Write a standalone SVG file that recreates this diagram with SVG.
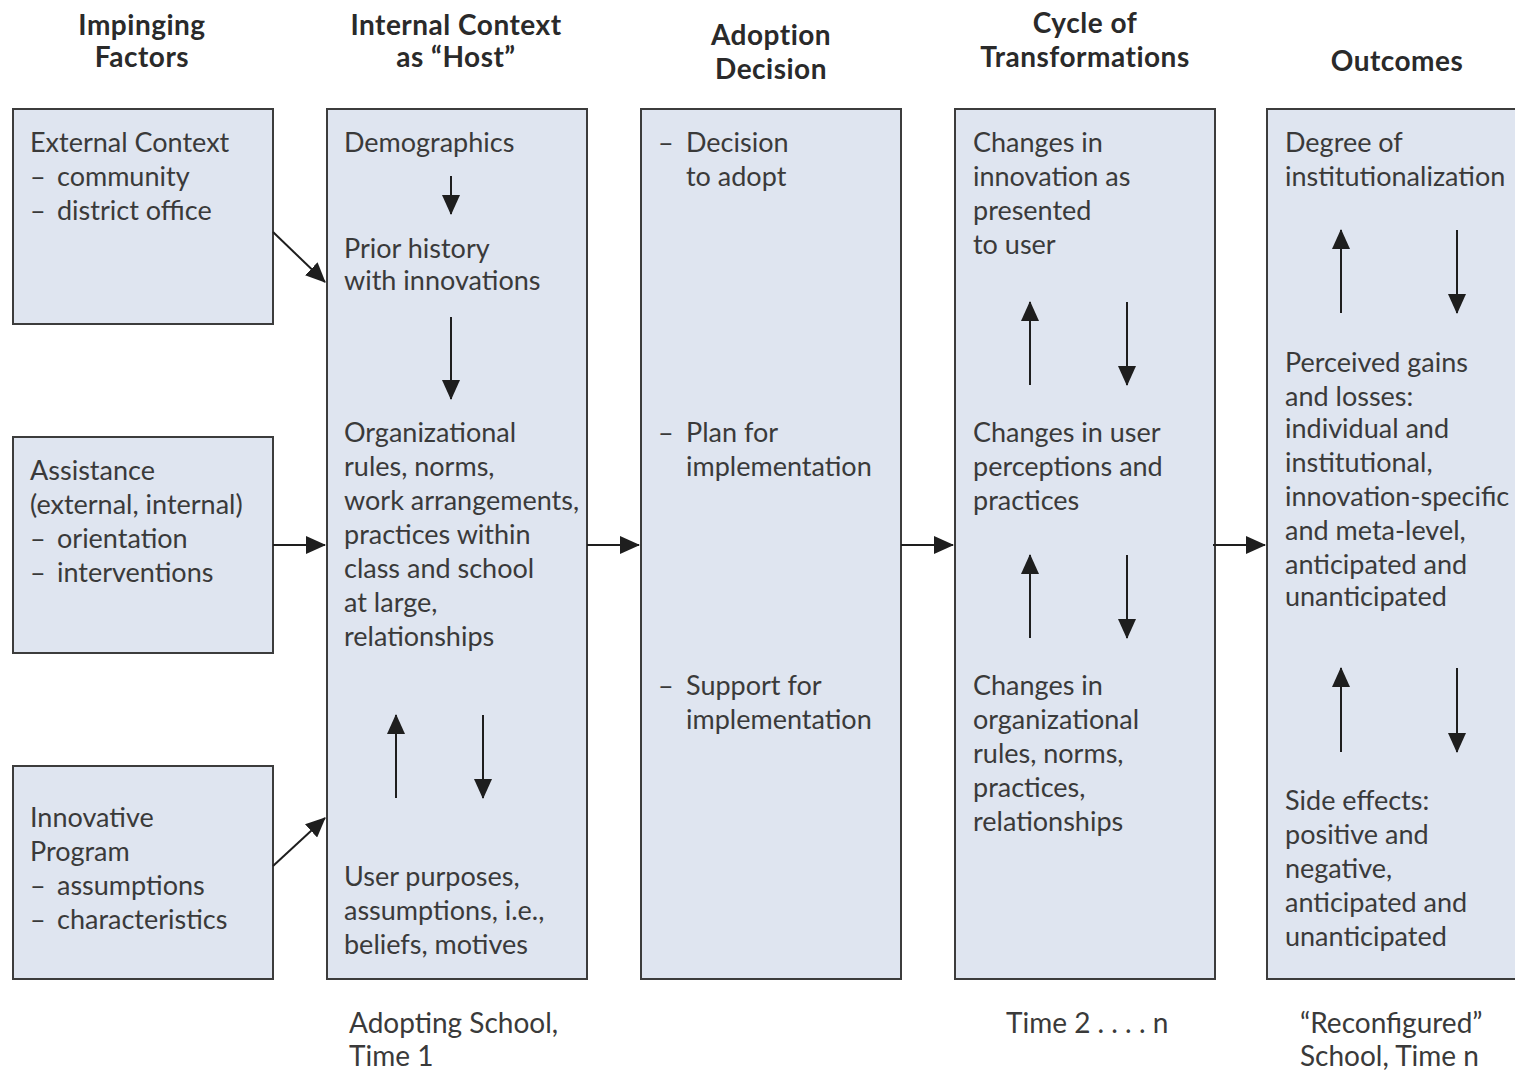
<svg xmlns="http://www.w3.org/2000/svg" width="1515" height="1070" viewBox="0 0 1515 1070">
<defs>
<marker id="ah" viewBox="0 0 20 18" refX="19" refY="9" markerWidth="20" markerHeight="18" markerUnits="userSpaceOnUse" orient="auto">
<path d="M0,0 L20,9 L0,18 Z" fill="#1e1e1e"/>
</marker>
<style>
.box{fill:#dfe5f0;stroke:#3c3c3c;stroke-width:2}
.t{font-family:Lato,"Liberation Sans",sans-serif;font-size:27px;fill:#3a3a3a}
.h{font-family:Lato,"Liberation Sans",sans-serif;font-size:28px;font-weight:bold;letter-spacing:0.5px;fill:#2a2a2a;text-anchor:middle}
.f{font-family:Lato,"Liberation Sans",sans-serif;font-size:28px;fill:#3a3a3a}
.c{stroke:#1e1e1e;stroke-width:2;fill:none;marker-end:url(#ah)}
</style>
</defs>
<rect width="1515" height="1070" fill="#ffffff"/>
<g id="headers">
<text class="h" x="142" y="35">Impinging</text>
<text class="h" x="142" y="67">Factors</text>
<text class="h" x="456" y="35">Internal Context</text>
<text class="h" x="456" y="67">as “Host”</text>
<text class="h" x="771" y="45">Adoption</text>
<text class="h" x="771" y="79">Decision</text>
<text class="h" x="1085" y="33">Cycle of</text>
<text class="h" x="1085" y="67">Transformations</text>
<text class="h" x="1397" y="71">Outcomes</text>
</g>
<g id="external-context">
<rect class="box" x="13" y="109" width="260" height="215"/>
<text class="t" x="30" y="152">External Context</text>
<text class="t" x="30" y="186">–</text><text class="t" x="57" y="186">community</text>
<text class="t" x="30" y="220">–</text><text class="t" x="57" y="220">district office</text>
</g>
<g id="assistance">
<rect class="box" x="13" y="437" width="260" height="216"/>
<text class="t" x="30" y="480">Assistance</text>
<text class="t" x="30" y="514">(external, internal)</text>
<text class="t" x="30" y="548">–</text><text class="t" x="57" y="548">orientation</text>
<text class="t" x="30" y="582">–</text><text class="t" x="57" y="582">interventions</text>
</g>
<g id="innovative-program">
<rect class="box" x="13" y="766" width="260" height="213"/>
<text class="t" x="30" y="827">Innovative</text>
<text class="t" x="30" y="861">Program</text>
<text class="t" x="30" y="895">–</text><text class="t" x="57" y="895">assumptions</text>
<text class="t" x="30" y="929">–</text><text class="t" x="57" y="929">characteristics</text>
</g>
<g id="internal-context">
<rect class="box" x="327" y="109" width="260" height="870"/>
<text class="t" x="344" y="152">Demographics</text>
<text class="t" x="344" y="258">Prior history</text>
<text class="t" x="344" y="290">with innovations</text>
<text class="t" x="344" y="442">Organizational</text>
<text class="t" x="344" y="476">rules, norms,</text>
<text class="t" x="344" y="510">work arrangements,</text>
<text class="t" x="344" y="544">practices within</text>
<text class="t" x="344" y="578">class and school</text>
<text class="t" x="344" y="612">at large,</text>
<text class="t" x="344" y="646">relationships</text>
<text class="t" x="344" y="886">User purposes,</text>
<text class="t" x="344" y="920">assumptions, i.e.,</text>
<text class="t" x="344" y="954">beliefs, motives</text>
</g>
<g id="adoption-decision">
<rect class="box" x="641" y="109" width="260" height="870"/>
<text class="t" x="658" y="152">–</text>
<text class="t" x="686" y="152">Decision</text>
<text class="t" x="686" y="186">to adopt</text>
<text class="t" x="658" y="442">–</text>
<text class="t" x="686" y="442">Plan for</text>
<text class="t" x="686" y="476">implementation</text>
<text class="t" x="658" y="695">–</text>
<text class="t" x="686" y="695">Support for</text>
<text class="t" x="686" y="729">implementation</text>
</g>
<g id="cycle-of-transformations">
<rect class="box" x="955" y="109" width="260" height="870"/>
<text class="t" x="973" y="152">Changes in</text>
<text class="t" x="973" y="186">innovation as</text>
<text class="t" x="973" y="220">presented</text>
<text class="t" x="973" y="254">to user</text>
<text class="t" x="973" y="442">Changes in user</text>
<text class="t" x="973" y="476">perceptions and</text>
<text class="t" x="973" y="510">practices</text>
<text class="t" x="973" y="695">Changes in</text>
<text class="t" x="973" y="729">organizational</text>
<text class="t" x="973" y="763">rules, norms,</text>
<text class="t" x="973" y="797">practices,</text>
<text class="t" x="973" y="831">relationships</text>
</g>
<g id="outcomes">
<rect class="box" x="1267" y="109" width="270" height="870"/>
<text class="t" x="1285" y="152">Degree of</text>
<text class="t" x="1285" y="186">institutionalization</text>
<text class="t" x="1285" y="372">Perceived gains</text>
<text class="t" x="1285" y="406">and losses:</text>
<text class="t" x="1285" y="438">individual and</text>
<text class="t" x="1285" y="472">institutional,</text>
<text class="t" x="1285" y="506">innovation-specific</text>
<text class="t" x="1285" y="540">and meta-level,</text>
<text class="t" x="1285" y="574">anticipated and</text>
<text class="t" x="1285" y="606">unanticipated</text>
<text class="t" x="1285" y="810">Side effects:</text>
<text class="t" x="1285" y="844">positive and</text>
<text class="t" x="1285" y="878">negative,</text>
<text class="t" x="1285" y="912">anticipated and</text>
<text class="t" x="1285" y="946">unanticipated</text>
</g>
<g id="footers">
<text class="f" x="349" y="1033">Adopting School,</text>
<text class="f" x="349" y="1066">Time 1</text>
<text class="f" x="1006" y="1033">Time 2 . . . . n</text>
<text class="f" x="1300" y="1033">“Reconfigured”</text>
<text class="f" x="1300" y="1066">School, Time n</text>
</g>
<g id="connectors">
<line class="c" x1="273" y1="232" x2="325" y2="282"/>
<line class="c" x1="273" y1="545" x2="325" y2="545"/>
<line class="c" x1="273" y1="866" x2="325" y2="818"/>
<line class="c" x1="587" y1="545" x2="639" y2="545"/>
<line class="c" x1="901" y1="545" x2="953" y2="545"/>
<line class="c" x1="1213" y1="545" x2="1265" y2="545"/>
<line class="c" x1="451" y1="176" x2="451" y2="214"/>
<line class="c" x1="451" y1="317" x2="451" y2="399"/>
<line class="c" x1="396" y1="798" x2="396" y2="715"/>
<line class="c" x1="483" y1="715" x2="483" y2="798"/>
<line class="c" x1="1030" y1="385" x2="1030" y2="302"/>
<line class="c" x1="1127" y1="302" x2="1127" y2="385"/>
<line class="c" x1="1030" y1="638" x2="1030" y2="555"/>
<line class="c" x1="1127" y1="555" x2="1127" y2="638"/>
<line class="c" x1="1341" y1="313" x2="1341" y2="230"/>
<line class="c" x1="1457" y1="230" x2="1457" y2="313"/>
<line class="c" x1="1341" y1="752" x2="1341" y2="668"/>
<line class="c" x1="1457" y1="668" x2="1457" y2="752"/>
</g>
</svg>
